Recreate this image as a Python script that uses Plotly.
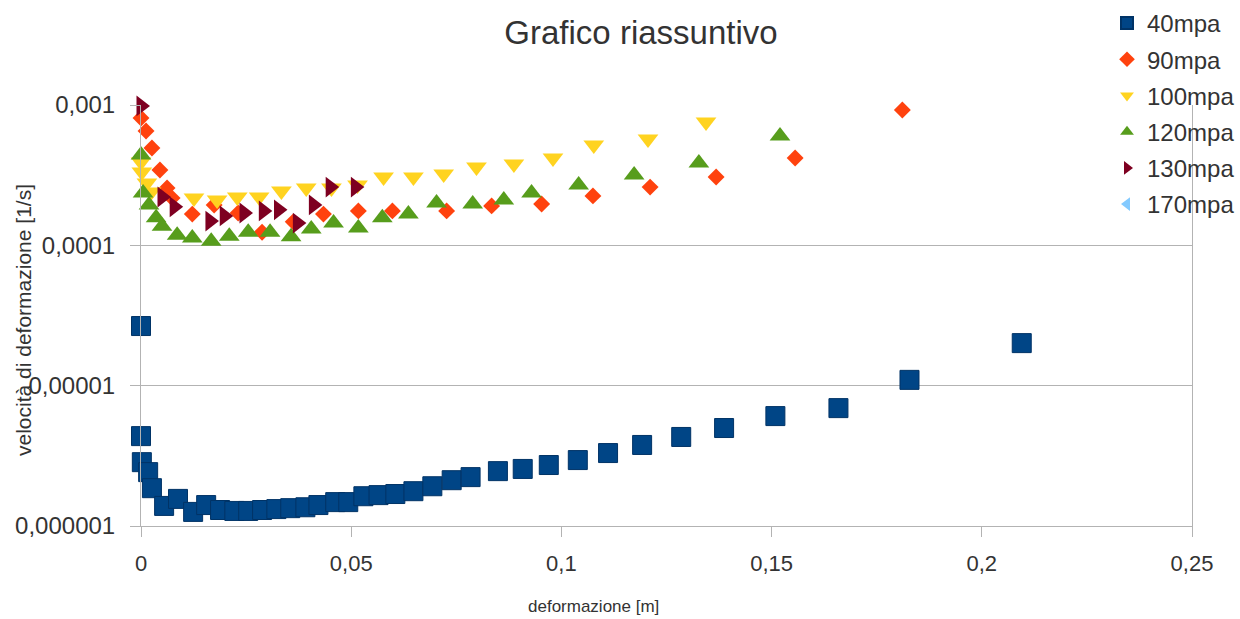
import plotly.graph_objects as go

# ---------------- data ----------------
x_40 = [0.0, 0.0, 0.0002, 0.0017, 0.0026, 0.0055, 0.0088, 0.0124, 0.0155, 0.0188,
        0.0222, 0.0255, 0.0288, 0.0322, 0.0355, 0.0391, 0.0422, 0.0462, 0.0493, 0.0529,
        0.0565, 0.0605, 0.0648, 0.0693, 0.0739, 0.0784, 0.0849, 0.0908, 0.0970, 0.1039,
        0.1111, 0.1192, 0.1285, 0.1387, 0.1509, 0.1659, 0.1828, 0.2095]
y_40 = [2.66e-5, 4.37e-6, 2.85e-6, 2.42e-6, 1.86e-6, 1.39e-6, 1.56e-6, 1.26e-6, 1.41e-6, 1.30e-6,
        1.28e-6, 1.28e-6, 1.30e-6, 1.32e-6, 1.34e-6, 1.36e-6, 1.41e-6, 1.48e-6, 1.48e-6, 1.63e-6,
        1.66e-6, 1.69e-6, 1.77e-6, 1.92e-6, 2.12e-6, 2.23e-6, 2.46e-6, 2.55e-6, 2.72e-6, 2.95e-6,
        3.31e-6, 3.78e-6, 4.31e-6, 4.99e-6, 6.07e-6, 6.92e-6, 1.10e-5, 2.01e-5]

x_90 = [0.0, 0.0012, 0.0026, 0.0045, 0.0062, 0.0074, 0.0122, 0.0174, 0.0231, 0.0288,
        0.0362, 0.0434, 0.0517, 0.0598, 0.0727, 0.0834, 0.0953, 0.1075, 0.1211, 0.1368,
        0.1556, 0.1811]
y_90 = [8.08e-4, 6.53e-4, 4.94e-4, 3.44e-4, 2.56e-4, 2.17e-4, 1.67e-4, 1.94e-4, 1.70e-4, 1.24e-4,
        1.47e-4, 1.67e-4, 1.76e-4, 1.76e-4, 1.76e-4, 1.91e-4, 1.97e-4, 2.25e-4, 2.60e-4, 3.07e-4,
        4.19e-4, 9.21e-4]

x_100 = [0.0, 0.0002, 0.0014, 0.0024, 0.0126, 0.0181, 0.0229, 0.0281, 0.0334, 0.0393,
         0.0453, 0.0515, 0.0577, 0.0648, 0.0720, 0.0798, 0.0887, 0.0980, 0.1077, 0.1206,
         0.1344]
y_100 = [3.92e-4, 3.33e-4, 2.78e-4, 2.40e-4, 2.17e-4, 2.10e-4, 2.21e-4, 2.21e-4, 2.44e-4, 2.56e-4,
         2.56e-4, 2.69e-4, 3.07e-4, 3.07e-4, 3.22e-4, 3.61e-4, 3.80e-4, 4.19e-4, 5.19e-4, 5.72e-4,
         7.56e-4]

x_120 = [0.0, 0.0005, 0.0019, 0.0036, 0.0050, 0.0086, 0.0122, 0.0167, 0.0210, 0.0255,
         0.0307, 0.0357, 0.0405, 0.0458, 0.0517, 0.0574, 0.0636, 0.0703, 0.0789, 0.0863,
         0.0929, 0.1041, 0.1173, 0.1327, 0.1520]
y_120 = [4.40e-4, 2.36e-4, 1.94e-4, 1.57e-4, 1.37e-4, 1.18e-4, 1.13e-4, 1.07e-4, 1.16e-4, 1.24e-4,
         1.24e-4, 1.15e-4, 1.31e-4, 1.44e-4, 1.33e-4, 1.57e-4, 1.67e-4, 2.00e-4, 1.97e-4, 2.10e-4,
         2.36e-4, 2.69e-4, 3.17e-4, 3.86e-4, 6.01e-4]

x_130 = [0.0, 0.0050, 0.0079, 0.0164, 0.0198, 0.0245, 0.0291, 0.0327, 0.0372, 0.0410,
         0.0450, 0.0510]
y_130 = [9.84e-4, 2.21e-4, 1.88e-4, 1.49e-4, 1.62e-4, 1.70e-4, 1.76e-4, 1.79e-4, 1.44e-4, 1.94e-4,
         2.60e-4, 2.60e-4]

x_170 = [None]
y_170 = [None]

series_names = ["40mpa", "90mpa", "100mpa", "120mpa", "130mpa", "170mpa"]
x_tick_vals = [0, 0.05, 0.1, 0.15, 0.2, 0.25]
x_tick_text = ["0", "0,05", "0,1", "0,15", "0,2", "0,25"]
y_tick_vals = [1e-6, 1e-5, 1e-4, 1e-3]
y_tick_text = ["0,000001", "0,00001", "0,0001", "0,001"]

# ---------------- styles ----------------
styles = [
    dict(symbol="square", color="#004586", size=19, line=dict(color="#003366", width=1)),
    dict(symbol="diamond", color="#ff420e", size=13, line=dict(width=0)),
    dict(symbol="triangle-down", color="#ffd320", size=18, line=dict(width=0)),
    dict(symbol="triangle-up", color="#579d1c", size=18, line=dict(width=0)),
    dict(symbol="triangle-right", color="#7e0021", size=18, line=dict(width=0)),
    dict(symbol="triangle-left", color="#83caff", size=18, line=dict(width=0)),
]
xs = [x_40, x_90, x_100, x_120, x_130, x_170]
ys = [y_40, y_90, y_100, y_120, y_130, y_170]

fig = go.Figure()
for name, xv, yv, st in zip(series_names, xs, ys, styles):
    fig.add_trace(go.Scatter(
        x=xv, y=yv, mode="markers", name=name, legendgroup=name,
        marker=st, cliponaxis=False,
    ))

W, H = 1240, 619
L, R, T, B = 141, 48, 105, 93
pw = W - L - R
ph = H - T - B

fig.update_layout(
    width=W, height=H,
    margin=dict(l=L, r=R, t=T, b=B, pad=0, autoexpand=False),
    paper_bgcolor="white", plot_bgcolor="white",
    font=dict(family="Liberation Sans, Arial, sans-serif", color="#333333", size=22),
    title=dict(text="Grafico riassuntivo", x=641 / W, xanchor="center",
               y=1 - 32 / H, yanchor="middle", yref="container",
               font=dict(size=33, color="#333333")),
    showlegend=True,
    legend=dict(x=(1107 - L) / pw, xanchor="left", y=1 + (T - 1) / ph, yanchor="top",
                font=dict(size=24, color="#333333"), bgcolor="rgba(0,0,0,0)",
                tracegroupgap=2, itemsizing="constant"),
    xaxis=dict(range=[0, 0.25], tickvals=x_tick_vals, ticktext=x_tick_text,
               showgrid=False, zeroline=False, showline=True, linecolor="#b3b3b3",
               ticks="outside", ticklen=10, tickcolor="#b3b3b3", ticklabelstandoff=8,
               tickfont=dict(size=22, color="#333333")),
    yaxis=dict(type="log", range=[-6, -3], tickvals=y_tick_vals, ticktext=y_tick_text,
               showgrid=True, gridcolor="#b3b3b3", gridwidth=1, zeroline=False,
               showline=True, linecolor="#b3b3b3", mirror=True,
               ticks="outside", ticklen=10, tickcolor="#b3b3b3", ticklabelstandoff=10,
               tickfont=dict(size=24, color="#333333")),
    annotations=[
        dict(text="deformazione [m]", xref="paper", yref="paper",
             x=(593 - L) / pw, y=-(606 - (H - B)) / ph, xanchor="center", yanchor="middle",
             showarrow=False, font=dict(size=17, color="#333333")),
        dict(text="velocità di deformazione [1/s]", xref="paper", yref="paper",
             x=(23 - L) / pw, y=(H - B - 320) / ph, xanchor="center", yanchor="middle",
             textangle=-90, showarrow=False, font=dict(size=21, color="#333333")),
    ],
)

fig.write_html("out.html")
